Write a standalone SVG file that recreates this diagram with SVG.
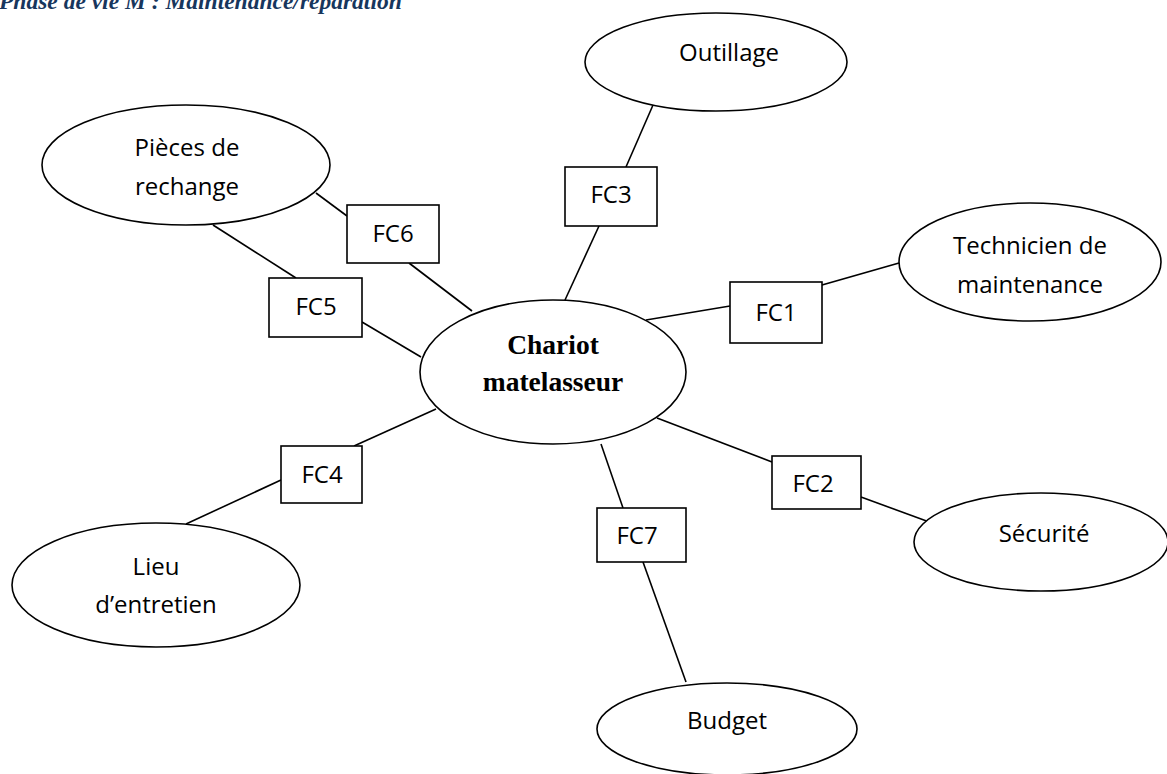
<svg xmlns="http://www.w3.org/2000/svg" width="1167" height="774" viewBox="0 0 1167 774">
<style>
  .bg { fill: #ffffff; }
  .node ellipse, .node rect { fill: #ffffff; stroke: #000000; stroke-width: 1.6; }
  .lbl { font-family: "Open Sans", "Liberation Sans", sans-serif; font-size: 24px; fill: #000000; text-anchor: middle; }
  .main { font-family: "Liberation Serif", "Times New Roman", serif; font-size: 27.5px; font-weight: bold; fill: #000000; text-anchor: middle; }
  .title { font-family: "Liberation Serif", serif; font-size: 23.5px; font-weight: bold; font-style: italic; fill: #17365D; }
  #connectors line { stroke: #000000; stroke-width: 1.6; }
</style>
<rect class="bg" x="0" y="0" width="1167" height="774"/>
<text class="title" x="-1" y="9">Phase de vie M : Maintenance/réparation</text>
<g id="connectors">
  <line x1="653" y1="105" x2="626" y2="167"/>
  <line x1="599" y1="226" x2="565" y2="300"/>
  <line x1="316" y1="193" x2="347" y2="216"/>
  <line x1="409" y1="263" x2="472" y2="311"/>
  <line x1="213" y1="225" x2="296" y2="278"/>
  <line x1="362" y1="322" x2="421" y2="357"/>
  <line x1="646" y1="320" x2="730" y2="306"/>
  <line x1="822" y1="285" x2="899" y2="263"/>
  <line x1="436" y1="409" x2="354" y2="446"/>
  <line x1="281" y1="480" x2="186" y2="524"/>
  <line x1="657" y1="418" x2="772" y2="462"/>
  <line x1="861" y1="497" x2="932" y2="523"/>
  <line x1="601" y1="444" x2="623" y2="508"/>
  <line x1="643" y1="562" x2="686" y2="682"/>
</g>
<g id="chariot" class="node">
  <ellipse cx="553" cy="372" rx="133" ry="72"/>
  <text class="main" x="553" y="354">Chariot</text>
  <text class="main" x="553" y="391">matelasseur</text>
</g>
<g id="outillage" class="node">
  <ellipse cx="716" cy="62" rx="131" ry="49"/>
  <text class="lbl" x="729" y="61">Outillage</text>
</g>
<g id="pieces" class="node">
  <ellipse cx="186" cy="165" rx="144" ry="60"/>
  <text class="lbl" x="187" y="156">Pièces de</text>
  <text class="lbl" x="187" y="195">rechange</text>
</g>
<g id="technicien" class="node">
  <ellipse cx="1030" cy="262" rx="131" ry="59"/>
  <text class="lbl" x="1030" y="254">Technicien de</text>
  <text class="lbl" x="1030" y="293">maintenance</text>
</g>
<g id="securite" class="node">
  <ellipse cx="1041" cy="542" rx="127" ry="49"/>
  <text class="lbl" x="1044" y="542">Sécurité</text>
</g>
<g id="budget" class="node">
  <ellipse cx="727" cy="729" rx="130" ry="46"/>
  <text class="lbl" x="727" y="729">Budget</text>
</g>
<g id="lieu" class="node">
  <ellipse cx="156" cy="585" rx="144" ry="62"/>
  <text class="lbl" x="156" y="575">Lieu</text>
  <text class="lbl" x="156" y="613">d’entretien</text>
</g>
<g id="fc1" class="node">
  <rect x="730" y="282" width="92" height="61"/>
  <text class="lbl" x="776" y="321">FC1</text>
</g>
<g id="fc2" class="node">
  <rect x="772" y="456" width="89" height="53"/>
  <text class="lbl" x="813" y="492">FC2</text>
</g>
<g id="fc3" class="node">
  <rect x="565" y="167" width="92" height="59"/>
  <text class="lbl" x="611" y="203">FC3</text>
</g>
<g id="fc4" class="node">
  <rect x="281" y="446" width="81" height="57"/>
  <text class="lbl" x="322" y="483">FC4</text>
</g>
<g id="fc5" class="node">
  <rect x="269" y="278" width="93" height="59"/>
  <text class="lbl" x="316" y="315">FC5</text>
</g>
<g id="fc6" class="node">
  <rect x="347" y="205" width="92" height="58"/>
  <text class="lbl" x="393" y="242">FC6</text>
</g>
<g id="fc7" class="node">
  <rect x="597" y="508" width="89" height="54"/>
  <text class="lbl" x="637" y="544">FC7</text>
</g>
</svg>
